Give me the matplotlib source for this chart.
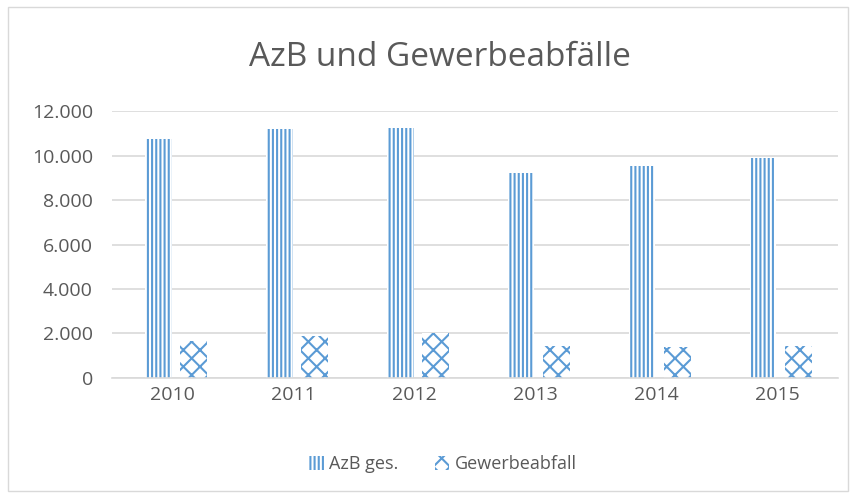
import matplotlib.pyplot as plt
import numpy as np
from matplotlib.patches import Patch, Rectangle
from matplotlib.ticker import FuncFormatter

years = ['2010', '2011', '2012', '2013', '2014', '2015']
azb = [10750, 11200, 11250, 9200, 9550, 9900]
gewerbe = [1650, 1900, 2000, 1450, 1400, 1450]

blue = '#5B9BD5'
grey = '#595959'
plt.rcParams['font.family'] = ['Open Sans', 'DejaVu Sans']
plt.rcParams['hatch.linewidth'] = 1.5

fig = plt.figure(figsize=(8.57, 4.98), dpi=100)
ax = fig.add_axes([0.131, 0.241, 0.847, 0.536])

x = np.arange(len(years))
w = 0.22
ax.bar(x - 0.12, azb, w, facecolor='white', edgecolor=blue, hatch='||||', linewidth=0, zorder=2)
ax.bar(x + 0.17, gewerbe, w, facecolor='white', edgecolor=blue, hatch='xx', linewidth=0, zorder=2)

ax.set_xlim(-0.5, 5.5)
ax.set_ylim(0, 12000)
ax.set_yticks(range(0, 12001, 2000))
ax.yaxis.set_major_formatter(FuncFormatter(lambda v, p: f'{int(v):,}'.replace(',', '.')))
ax.set_xticks(x)
ax.set_xticklabels(years)
ax.tick_params(length=0, labelsize=14, colors=grey)
ax.tick_params(axis='y', pad=14)
ax.tick_params(axis='x', pad=6)
ax.grid(axis='y', color='#D9D9D9', linewidth=1.2, zorder=0)
for s in ['top', 'right', 'left']:
    ax.spines[s].set_visible(False)
ax.spines['bottom'].set_color('#D9D9D9')
ax.spines['bottom'].set_linewidth(1.2)

fig.text(440 / 857, 1 - 57 / 498, 'AzB und Gewerbeabfälle', ha='center', va='center',
         fontsize=24, color=grey)

handles = [Patch(facecolor='white', edgecolor=blue, hatch='||||', linewidth=0, label='AzB ges.'),
           Patch(facecolor='white', edgecolor=blue, hatch='xx', linewidth=0, label='Gewerbeabfall')]
fig.legend(handles=handles, loc='center', bbox_to_anchor=(443 / 857, 1 - 464 / 498), ncol=2,
           frameon=False, fontsize=13, labelcolor=grey, handlelength=0.8, handleheight=0.8,
           handletextpad=0.3, columnspacing=2.0)

fig.patches.append(Rectangle((8 / 857, 7 / 498), 840 / 857, 484 / 498, transform=fig.transFigure,
                             fill=False, edgecolor='#D9D9D9', linewidth=1))

fig.savefig('out.png', dpi=100)
